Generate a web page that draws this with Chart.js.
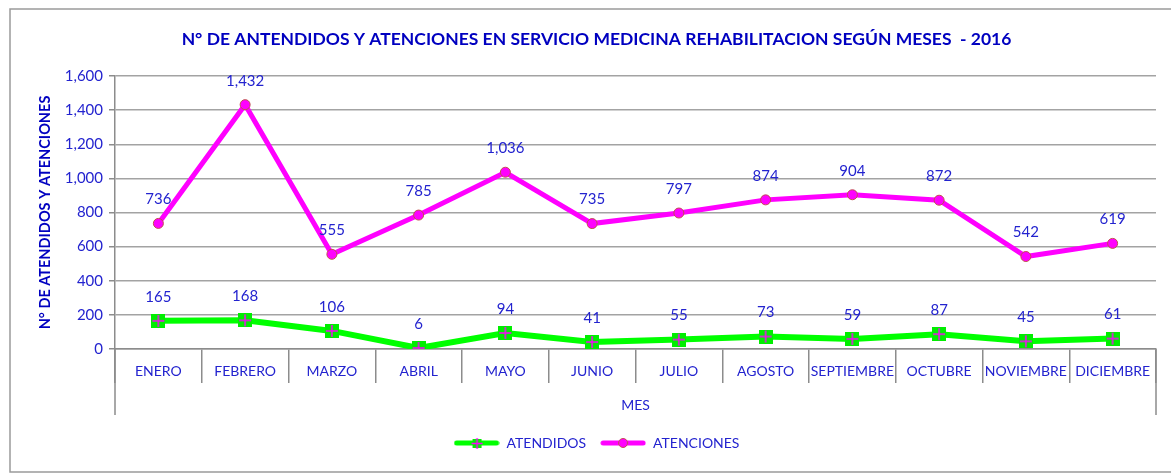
<!DOCTYPE html>
<html>
<head>
<meta charset="utf-8">
<script src="https://cdn.jsdelivr.net/npm/chart.js@4.4.1/dist/chart.umd.min.js"></script>
<style>
  html, body { margin: 0; padding: 0; background: #fff; }
  #wrap { width: 1171px; height: 474px; position: relative; }
</style>
</head>
<body>
<div id="wrap"><canvas id="myChart" width="1171" height="474"></canvas></div>
<script>
var months = ['ENERO','FEBRERO','MARZO','ABRIL','MAYO','JUNIO','JULIO','AGOSTO','SEPTIEMBRE','OCTUBRE','NOVIEMBRE','DICIEMBRE'];
var atendidos = [165, 168, 106, 6, 94, 41, 55, 73, 59, 87, 45, 61];
var atenciones = [736, 1432, 555, 785, 1036, 735, 797, 874, 904, 872, 542, 619];
var yMin = 0, yMax = 1600, yStep = 200;

var blue = '#2323cf';
var gridGray = '#a3a3a3';
var fam = 'Lato, "Open Sans", sans-serif';

// marker: green square with magenta cross
function squareCross() {
    let c = document.createElement('canvas');
    c.width = 14; c.height = 14;
    let g = c.getContext('2d');
    g.fillStyle = '#00ee00';
    g.fillRect(0, 0, 14, 14);
    g.strokeStyle = '#ff00ff';
    g.lineWidth = 1.5;
    g.beginPath();
    g.moveTo(7, 1); g.lineTo(7, 13);
    g.moveTo(1, 7); g.lineTo(13, 7);
    g.stroke();
    return c;
}

function legendIcon(color, marker) {
    let c = document.createElement('canvas');
    c.width = 46; c.height = 14;
    let g = c.getContext('2d');
    g.strokeStyle = color;
    g.lineWidth = 5;
    g.lineCap = 'round';
    g.beginPath();
    g.moveTo(3, 7); g.lineTo(43, 7);
    g.stroke();
    if (marker === 'sq') {
        g.fillStyle = '#00ee00';
        g.fillRect(19, 3, 9, 9);
        g.strokeStyle = '#ff00ff';
        g.lineWidth = 1.5;
        g.lineCap = 'butt';
        g.beginPath();
        g.moveTo(23.5, 2); g.lineTo(23.5, 13);
        g.moveTo(18, 7.5); g.lineTo(29, 7.5);
        g.stroke();
    } else {
        g.fillStyle = '#ff00ff';
        g.strokeStyle = '#c0504d';
        g.lineWidth = 1;
        g.beginPath();
        g.arc(23, 7, 4.5, 0, Math.PI * 2);
        g.fill(); g.stroke();
    }
    return c;
}

var sqMarker = squareCross();
var icons = [legendIcon('#00ff00', 'sq'), legendIcon('#ff00ff', 'ci')];

var valueLabels = {
    id: 'valueLabels',
    afterDatasetsDraw(chart) {
        let c = chart.ctx;
        c.save();
        c.font = '15px ' + fam;
        c.fillStyle = blue;
        c.textAlign = 'center';
        c.textBaseline = 'middle';
        chart.data.datasets.forEach(function(ds, i) {
            chart.getDatasetMeta(i).data.forEach(function(pt, j) {
                c.fillText(ds.data[j].toLocaleString('en-US'), pt.x, pt.y - 24);
            });
        });
        c.restore();
    }
};

var frame = {
    id: 'frame',
    beforeDraw(chart) {
        let c = chart.ctx;
        c.save();
        c.strokeStyle = '#9a9a9a';
        c.lineWidth = 1.5;
        c.strokeRect(10, 9, 1200, 463);
        c.restore();
    },
    afterDraw(chart) {
        let c = chart.ctx;
        let a = chart.chartArea;
        c.save();
        c.strokeStyle = '#8c8c8c';
        c.lineWidth = 1.5;
        c.beginPath();
        c.moveTo(a.left, a.bottom); c.lineTo(a.left, a.bottom + 66);
        c.moveTo(a.right, a.bottom); c.lineTo(a.right, a.bottom + 66);
        c.stroke();
        c.restore();
    }
};

var ctx = document.getElementById('myChart');
var myChart = new Chart(ctx, {
    type: 'line',
    data: {
        labels: months,
        datasets: [
            {
                label: 'ATENDIDOS',
                data: atendidos,
                borderColor: '#00ff00',
                backgroundColor: '#00ee00',
                borderWidth: 6,
                pointStyle: sqMarker,
                pointRadius: 7,
                tension: 0
            },
            {
                label: 'ATENCIONES',
                data: atenciones,
                borderColor: '#ff00ff',
                backgroundColor: '#ff00ff',
                borderWidth: 5,
                pointStyle: 'circle',
                pointRadius: 5,
                pointBackgroundColor: '#ff00ff',
                pointBorderColor: '#c0504d',
                pointBorderWidth: 1,
                tension: 0
            }
        ]
    },
    options: {
        responsive: false,
        animation: false,
        layout: { padding: { left: 37, right: 15, top: 22, bottom: 14 } },
        scales: {
            x: {
                offset: true,
                grid: {
                    offset: true,
                    drawOnChartArea: false,
                    drawTicks: true,
                    tickLength: 34,
                    color: '#8c8c8c',
                    lineWidth: 1.5
                },
                border: { color: '#8c8c8c', width: 1.5 },
                ticks: {
                    color: blue,
                    font: { family: fam, size: 14 },
                    padding: -20,
                    maxRotation: 0,
                    autoSkip: false
                },
                title: {
                    display: true,
                    text: 'MES',
                    color: blue,
                    font: { family: fam, size: 14 },
                    padding: { top: 0, bottom: 8 }
                },
                afterFit(scale) { scale.height = 73; }
            },
            y: {
                min: yMin,
                max: yMax,
                ticks: {
                    stepSize: yStep,
                    color: blue,
                    font: { family: fam, size: 15 },
                    padding: 6,
                    callback: function(v) { return v.toLocaleString('en-US'); }
                },
                grid: {
                    color: gridGray,
                    lineWidth: 1.5,
                    tickLength: 6,
                    tickColor: '#8c8c8c'
                },
                border: { color: '#8c8c8c', width: 1.5 },
                title: {
                    display: true,
                    text: 'N° DE ATENDIDOS Y ATENCIONES',
                    color: '#0000c0',
                    font: { family: fam, size: 14.5, weight: 'bold' },
                    padding: 0
                },
                afterFit(scale) { scale.width = 78; }
            }
        },
        plugins: {
            legend: {
                position: 'bottom',
                labels: {
                    usePointStyle: true,
                    pointStyleWidth: 46,
                    color: blue,
                    font: { family: fam, size: 14 },
                    padding: 14,
                    generateLabels: function(chart) {
                        return chart.data.datasets.map(function(ds, i) {
                            return {
                                text: ds.label,
                                pointStyle: icons[i],
                                fontColor: blue,
                                datasetIndex: i,
                                lineWidth: 0,
                                strokeStyle: 'transparent',
                                fillStyle: 'transparent'
                            };
                        });
                    }
                }
            },
            title: {
                display: true,
                text: 'N° DE ANTENDIDOS Y ATENCIONES EN SERVICIO MEDICINA REHABILITACION SEGÚN MESES  - 2016',
                color: '#0000c0',
                font: { family: fam, size: 17.5, weight: 'bold' },
                padding: { top: 7, bottom: 26 }
            },
            tooltip: { enabled: false }
        }
    },
    plugins: [valueLabels, frame]
});
</script>
</body>
</html>
